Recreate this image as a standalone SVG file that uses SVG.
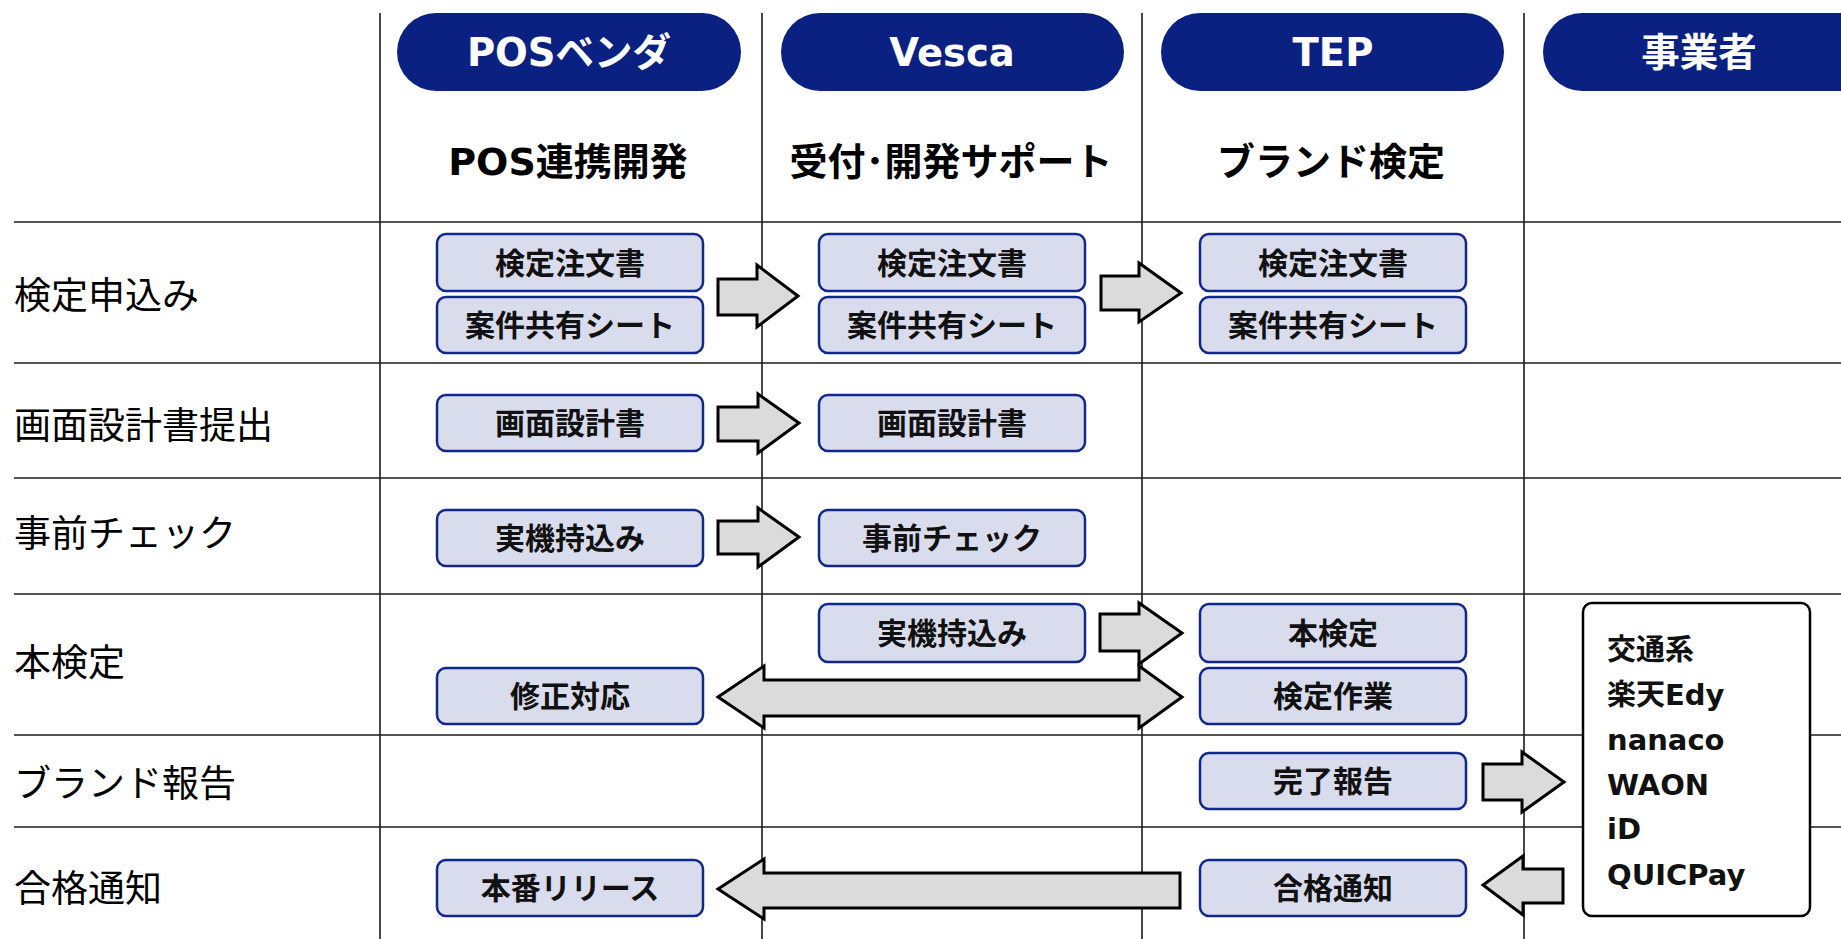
<svg xmlns="http://www.w3.org/2000/svg" width="1841" height="939" viewBox="0 0 1841 939">
<style>
  .grid line { stroke: #1a1a1a; stroke-width: 1.6; }
  .pill { fill: #0b2182; }
  .pilltxt { fill: #ffffff; font-family: "DejaVu Sans", "Noto Sans CJK JP", sans-serif; font-weight: bold; font-size: 38.5px; text-anchor: middle; dominant-baseline: central; }
  .sub { fill: #000; font-family: "DejaVu Sans", "Noto Sans CJK JP", sans-serif; font-weight: bold; font-size: 38px; text-anchor: middle; dominant-baseline: central; }
  .row { fill: #000; font-family: "Noto Sans CJK JP", sans-serif; font-weight: 400; font-size: 37px; dominant-baseline: central; }
  .box { fill: #d9dcec; stroke: #10288c; stroke-width: 2.5; }
  .btxt { fill: #111; font-family: "Noto Sans CJK JP", sans-serif; font-weight: bold; font-size: 30px; text-anchor: middle; dominant-baseline: central; }
  .arrow { fill: #dbdbdb; stroke: #000; stroke-width: 3; stroke-linejoin: miter; }
  .list { fill: #fff; stroke: #000; stroke-width: 2.5; }
  .ltxt { fill: #111; font-family: "DejaVu Sans", "Noto Sans CJK JP", sans-serif; font-weight: bold; font-size: 29px; }
</style>

<g id="grid" class="grid">
  <line x1="14" y1="222" x2="1841" y2="222"/>
  <line x1="14" y1="363" x2="1841" y2="363"/>
  <line x1="14" y1="478" x2="1841" y2="478"/>
  <line x1="14" y1="594" x2="1841" y2="594"/>
  <line x1="14" y1="735" x2="1841" y2="735"/>
  <line x1="14" y1="827" x2="1841" y2="827"/>
  <line x1="380" y1="13" x2="380" y2="939"/>
  <line x1="762" y1="13" x2="762" y2="939"/>
  <line x1="1142" y1="13" x2="1142" y2="939"/>
  <line x1="1524" y1="13" x2="1524" y2="939"/>
</g>

<g id="header-pos">
  <rect class="pill" x="397" y="13" width="344" height="78" rx="39"/>
  <text class="pilltxt" x="569" y="52">POSベンダ</text>
  <text class="sub" x="568" y="162">POS連携開発</text>
</g>
<g id="header-vesca">
  <rect class="pill" x="781" y="13" width="343" height="78" rx="39"/>
  <text class="pilltxt" x="952" y="52">Vesca</text>
  <text class="sub" x="951" y="162">受付･開発サポート</text>
</g>
<g id="header-tep">
  <rect class="pill" x="1161" y="13" width="343" height="78" rx="39"/>
  <text class="pilltxt" x="1333" y="52">TEP</text>
  <text class="sub" x="1331" y="162">ブランド検定</text>
</g>
<g id="header-jigyosha">
  <rect class="pill" x="1543" y="13" width="344" height="78" rx="39"/>
  <text class="pilltxt" x="1699" y="52">事業者</text>
</g>

<g id="row-labels">
  <text class="row" x="14" y="293">検定申込み</text>
  <text class="row" x="14" y="423">画面設計書提出</text>
  <text class="row" x="14" y="531">事前チェック</text>
  <text class="row" x="14" y="660">本検定</text>
  <text class="row" x="14" y="781">ブランド報告</text>
  <text class="row" x="14" y="886">合格通知</text>
</g>

<g id="connectors">
  <path class="arrow" d="M718,279 H757 V265 L798,296 L757,327 V315 H718 Z"/>
  <path class="arrow" d="M1101,276 H1139 V263 L1181,293 L1139,322 V310 H1101 Z"/>
  <path class="arrow" d="M718,407 H758 V394 L799,423 L758,453 V441 H718 Z"/>
  <path class="arrow" d="M718,521 H758 V508 L799,537 L758,567 V554 H718 Z"/>
  <path class="arrow" d="M1100,614 H1139 V603 L1182,633 L1139,664 V651 H1100 Z"/>
  <path class="arrow" d="M718,697 L764,666 V680 H1139 V666 L1182,697 L1139,728 V716 H764 V728 Z"/>
  <path class="arrow" d="M1483,764 H1522 V752 L1564,782 L1522,812 V800 H1483 Z"/>
  <path class="arrow" d="M1563,869 H1523 V856 L1483,885 L1523,915 V903 H1563 Z"/>
  <path class="arrow" d="M1180,873 H764 V859 L718,889 L764,919 V908 H1180 Z"/>
</g>

<g id="pos-kentei-chumonsho"><rect class="box" x="437" y="234" width="266" height="57" rx="9"/><text class="btxt" x="570" y="260.5">検定注文書</text></g>
<g id="pos-anken-sheet"><rect class="box" x="437" y="297" width="266" height="56" rx="9"/><text class="btxt" x="570" y="323">案件共有シート</text></g>
<g id="vesca-kentei-chumonsho"><rect class="box" x="819" y="234" width="266" height="57" rx="9"/><text class="btxt" x="952" y="260.5">検定注文書</text></g>
<g id="vesca-anken-sheet"><rect class="box" x="819" y="297" width="266" height="56" rx="9"/><text class="btxt" x="952" y="323">案件共有シート</text></g>
<g id="tep-kentei-chumonsho"><rect class="box" x="1200" y="234" width="266" height="57" rx="9"/><text class="btxt" x="1333" y="260.5">検定注文書</text></g>
<g id="tep-anken-sheet"><rect class="box" x="1200" y="297" width="266" height="56" rx="9"/><text class="btxt" x="1333" y="323">案件共有シート</text></g>

<g id="pos-gamen"><rect class="box" x="437" y="395" width="266" height="56" rx="9"/><text class="btxt" x="570" y="421">画面設計書</text></g>
<g id="vesca-gamen"><rect class="box" x="819" y="395" width="266" height="56" rx="9"/><text class="btxt" x="952" y="421">画面設計書</text></g>

<g id="pos-jikki"><rect class="box" x="437" y="510" width="266" height="56" rx="9"/><text class="btxt" x="570" y="536">実機持込み</text></g>
<g id="vesca-jizen"><rect class="box" x="819" y="510" width="266" height="56" rx="9"/><text class="btxt" x="952" y="536">事前チェック</text></g>

<g id="vesca-jikki"><rect class="box" x="819" y="604" width="266" height="58" rx="9"/><text class="btxt" x="952" y="631">実機持込み</text></g>
<g id="tep-honkentei"><rect class="box" x="1200" y="604" width="266" height="58" rx="9"/><text class="btxt" x="1333" y="631">本検定</text></g>
<g id="tep-kentei-sagyo"><rect class="box" x="1200" y="668" width="266" height="56" rx="9"/><text class="btxt" x="1333" y="694">検定作業</text></g>
<g id="pos-shusei"><rect class="box" x="437" y="668" width="266" height="56" rx="9"/><text class="btxt" x="570" y="694">修正対応</text></g>

<g id="tep-kanryo"><rect class="box" x="1200" y="753" width="266" height="56" rx="9"/><text class="btxt" x="1333" y="779">完了報告</text></g>

<g id="pos-release"><rect class="box" x="437" y="860" width="266" height="56" rx="9"/><text class="btxt" x="570" y="886">本番リリース</text></g>
<g id="tep-gokaku"><rect class="box" x="1200" y="860" width="266" height="56" rx="9"/><text class="btxt" x="1333" y="886">合格通知</text></g>

<g id="brand-list">
  <rect class="list" x="1583" y="603" width="227" height="313" rx="9"/>
  <text class="ltxt" x="1607" y="660">交通系</text>
  <text class="ltxt" x="1607" y="705">楽天Edy</text>
  <text class="ltxt" x="1607" y="750">nanaco</text>
  <text class="ltxt" x="1607" y="795">WAON</text>
  <text class="ltxt" x="1607" y="839">iD</text>
  <text class="ltxt" x="1607" y="885">QUICPay</text>
</g>
</svg>
